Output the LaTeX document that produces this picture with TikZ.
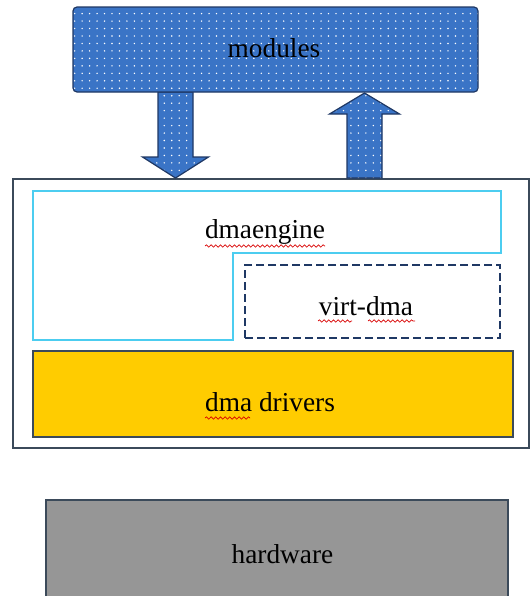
\documentclass[tikz,border=0pt]{standalone}
\usepackage{fontspec}
\setmainfont{Liberation Serif}
\usetikzlibrary{patterns.meta,decorations.pathmorphing,calc}
\definecolor{modblue}{HTML}{3A74C6}
\definecolor{navy}{HTML}{1F3864}
\definecolor{slate}{HTML}{3B4A5A}
\definecolor{engcyan}{HTML}{4CCDF0}
\definecolor{drvyellow}{HTML}{FFCC00}
\definecolor{hwgray}{HTML}{969696}

\begin{document}
\begin{tikzpicture}
   [x=0.75pt,y=-0.75pt,
      blk/.style={draw=navy,line width=0.9pt,preaction={fill=modblue},
      pattern={Dots[distance=5.6pt,radius=0.6pt]},pattern color=white},
lbl/.style={font=\fontsize{20.5}{24}\selectfont,inner sep=0pt,anchor=base},
layer/.style={draw=slate,line width=0.8pt,inner sep=0pt},
squiggle/.style={red!85!black,line width=0.5pt,decorate,
decoration={snake,segment length=3.5pt,amplitude=0.9pt}}]
%%
\clip (0,0) rectangle (530,596);
\fill[white] (0,0) rectangle (530,596);
%%
%% kernel frame
\node (kern) [layer,fill=white,minimum width=387pt,minimum height=201.75pt] at (271,313.5) {};
\draw[engcyan,line width=1.2pt] (33,191) -- (501,191) -- (501,253) -- (233,253)
  -- (233,340) -- (33,340) -- cycle;
\node (virt) [draw=navy,dash pattern=on 6pt off 3pt,line width=1.9pt,
  inner sep=0pt,minimum width=191.25pt,minimum height=54.75pt] at (372.5,301.5) {};
\node (drv) [layer,fill=drvyellow,minimum width=360pt,minimum height=64.5pt] at (273,394) {};
\node (hw) [layer,fill=hwgray,minimum width=346.5pt,minimum height=75pt] at (277,550) {};
%%
%% arrows
\draw[blk,line join=miter] (158,92) -- (193,92) -- (193,157) -- (208.5,157) -- (175.5,178)
  -- (142.5,157) -- (158,157) -- cycle;
\draw[blk,line join=miter] (347,178) -- (382,178) -- (382,114) -- (399.5,114) -- (364.5,93)
  -- (329.5,114) -- (347,114) -- cycle;
\node (mods) [blk,rounded corners=3pt,inner sep=0pt,minimum width=303.75pt,
  minimum height=63.75pt] at (275.5,49.5) {};
%%
%% labels
\node (tmods) [lbl] at (274,57) {modules};
\node (teng) [lbl] at (265,238) {dmaengine};
\node (tvirt) [lbl] at (366,315) {virt-dma};
\node (tdrv) [lbl] at (270,411) {dma drivers};
\node (thw) [lbl] at (282.5,563) {hardware};
%%
\draw[squiggle] (205,246) -- (325,246);
\draw[squiggle] (318,321) -- (352,321);
\draw[squiggle] (368,321) -- (415,321);
\draw[squiggle] (205,418) -- (250,418);
\end{tikzpicture}
\end{document}
